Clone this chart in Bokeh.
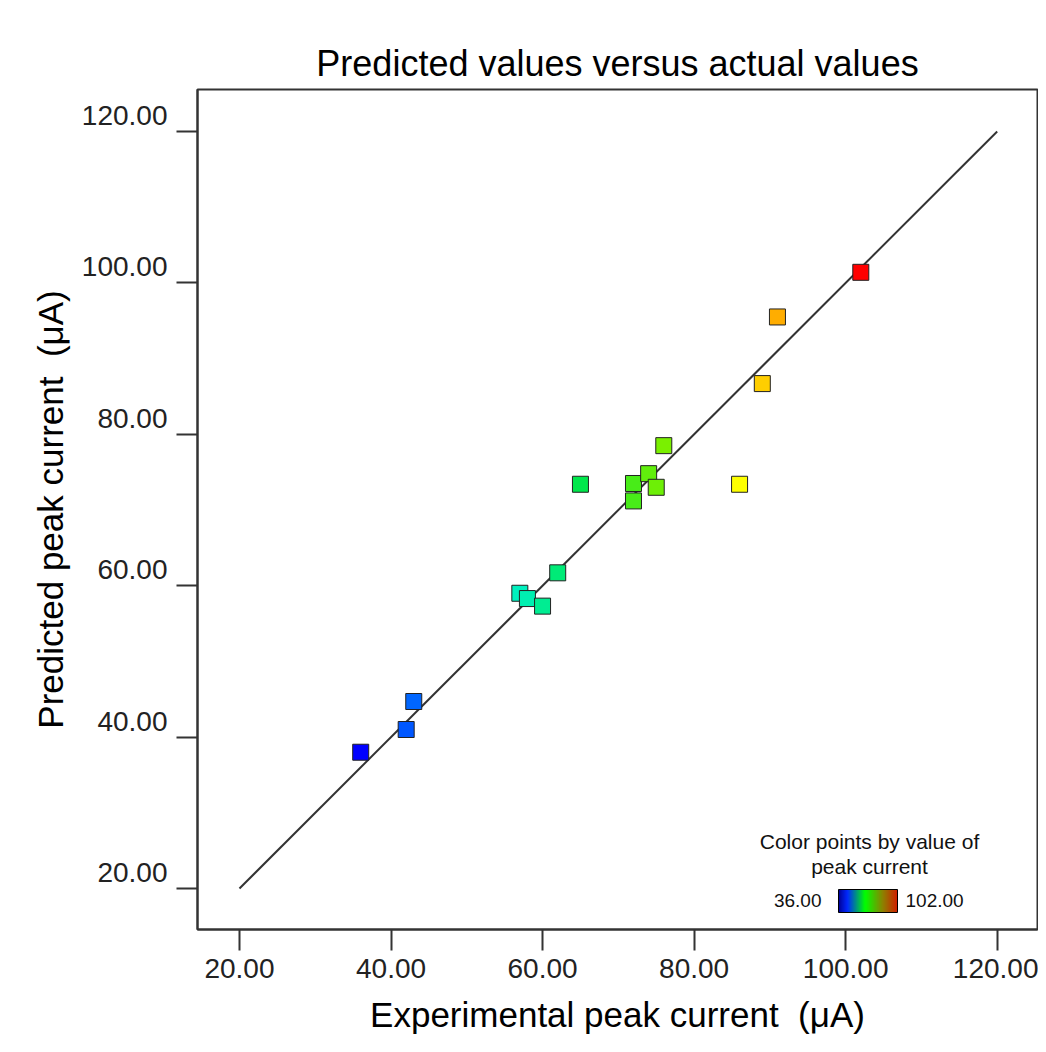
from bokeh.plotting import figure
from bokeh.models import (LinearColorMapper, ColorBar, FixedTicker, Label, LinearAxis,
                          Range1d, ColumnDataSource)
from bokeh.embed import file_html
from bokeh.resources import INLINE

# ---------------- data ----------------
actual = [36, 42, 43, 57, 58, 60, 62, 65, 72, 72, 74, 75, 76, 86, 89, 91, 102]
predicted = [38.0, 41.0, 44.7, 59.0, 58.3, 57.3, 61.7, 73.4, 71.2, 73.5,
             74.8, 73.0, 78.5, 73.4, 86.7, 95.5, 101.4]
tick_values = [20, 40, 60, 80, 100, 120]
tick_labels = ["20.00", "40.00", "60.00", "80.00", "100.00", "120.00"]
color_low, color_high = 36.00, 102.00
color_low_label, color_high_label = "36.00", "102.00"
title_text = "Predicted values versus actual values"
x_title = "Experimental peak current\u00a0 (\u03bcA)"
y_title = "Predicted peak current\u00a0 (\u03bcA)"
legend_title = ["Color points by value of", "peak current"]
ref_line = [tick_values[0], tick_values[-1]]
x_start, x_end = 14.46, 125.32
y_start, y_end = 14.58, 125.55
y_label_lift = 2.11   # y tick labels sit slightly above their ticks


def make_palette(anchors, n=256):
    out = []
    for i in range(n):
        t = i / (n - 1)
        for (t0, c0), (t1, c1) in zip(anchors[:-1], anchors[1:]):
            if t0 <= t <= t1:
                f = 0 if t1 == t0 else (t - t0) / (t1 - t0)
                c = [round(a + (b - a) * f) for a, b in zip(c0, c1)]
                out.append("#%02x%02x%02x" % tuple(c))
                break
    return out


point_palette = make_palette([(0.0, (0, 0, 255)), (15 / 66, (0, 220, 255)),
                              (21 / 66, (0, 240, 190)), (30 / 66, (0, 230, 60)),
                              (40 / 66, (120, 240, 0)),
                              (50 / 66, (255, 255, 0)), (1.0, (255, 0, 0))])
bar_palette = make_palette([(0.0, (0, 0, 150)), (0.15, (0, 40, 255)),
                            (0.45, (0, 255, 0)), (0.75, (140, 130, 0)),
                            (1.0, (210, 30, 0))])

FONT = "Liberation Sans"
DARK = "#333333"

p = figure(frame_width=840, frame_height=840,
           x_range=Range1d(x_start, x_end), y_range=Range1d(y_start, y_end),
           output_backend="svg", toolbar_location=None,
           min_border_left=197, min_border_right=1, min_border_top=89,
           min_border_bottom=115)
p.extra_y_ranges = {"lab": Range1d(y_start - y_label_lift, y_end - y_label_lift)}
p.background_fill_color = "white"
p.border_fill_color = "white"
p.outline_line_color = DARK
p.outline_line_width = 2
p.xgrid.visible = False
p.ygrid.visible = False

p.title.text = title_text
p.title.text_font = FONT
p.title.text_font_size = "36px"
p.title.text_font_style = "normal"
p.title.text_color = "black"
p.title.align = "center"
p.title.standoff = 12


def style(ax):
    ax.ticker = FixedTicker(ticks=tick_values)
    ax.major_tick_out = 21
    ax.major_tick_in = 0
    ax.minor_tick_out = 0
    ax.minor_tick_in = 0
    ax.major_tick_line_color = DARK
    ax.major_tick_line_width = 2
    ax.axis_line_color = DARK
    ax.axis_line_width = 2
    ax.major_label_text_font = FONT
    ax.major_label_text_font_size = "28px"
    ax.major_label_text_color = "#222222"
    ax.axis_label_text_font = FONT
    ax.axis_label_text_font_size = "35px"
    ax.axis_label_text_font_style = "normal"
    ax.axis_label_text_color = "black"


style(p.xaxis[0])
style(p.yaxis[0])
p.xaxis.major_label_overrides = {v: s for v, s in zip(tick_values, tick_labels)}
p.xaxis.axis_label = x_title
p.xaxis.major_label_standoff = 8
p.xaxis.axis_label_standoff = 14

# left axis next to the frame: ticks only
p.yaxis.major_label_overrides = {v: "" for v in tick_values}
p.yaxis.major_label_standoff = 0

# outer left axis: labels only (lifted a little above the ticks)
lab_axis = LinearAxis(y_range_name="lab")
style(lab_axis)
lab_axis.major_label_overrides = {v: s for v, s in zip(tick_values, tick_labels)}
lab_axis.major_tick_out = 0
lab_axis.major_tick_line_color = None
lab_axis.axis_line_color = None
lab_axis.major_label_standoff = 9
lab_axis.axis_label = y_title
lab_axis.axis_label_standoff = 9
p.add_layout(lab_axis, "left")

# reference line y = x
p.line(ref_line, ref_line, line_color=DARK, line_width=2)

mapper = LinearColorMapper(palette=point_palette, low=color_low, high=color_high)
src = ColumnDataSource(dict(x=actual, y=predicted))
p.scatter("x", "y", source=src, marker="square", size=16,
          fill_color={"field": "x", "transform": mapper},
          line_color="#222222", line_width=1)

# legend: colour bar
bar_mapper = LinearColorMapper(palette=bar_palette, low=color_low, high=color_high)
cb = ColorBar(color_mapper=bar_mapper, orientation="horizontal", width=59, height=23,
              location=(641, 17), ticker=FixedTicker(ticks=[]),
              major_label_text_font_size="0px", major_tick_line_color=None,
              bar_line_color="black", bar_line_width=1, border_line_color=None,
              background_fill_alpha=0, padding=0)
p.add_layout(cb, "center")

lab_kw = dict(x_units="screen", y_units="screen", text_font=FONT,
              text_color="#111111", text_baseline="middle")
p.add_layout(Label(x=624, y=29, text=color_low_label, text_align="right",
                   text_font_size="19px", **lab_kw))
p.add_layout(Label(x=708, y=29, text=color_high_label, text_align="left",
                   text_font_size="19px", **lab_kw))
p.add_layout(Label(x=672, y=88, text=legend_title[0], text_align="center",
                   text_font_size="21px", **lab_kw))
p.add_layout(Label(x=672, y=63, text=legend_title[1], text_align="center",
                   text_font_size="21px", **lab_kw))

open("out.html", "w").write(file_html(p, INLINE))
